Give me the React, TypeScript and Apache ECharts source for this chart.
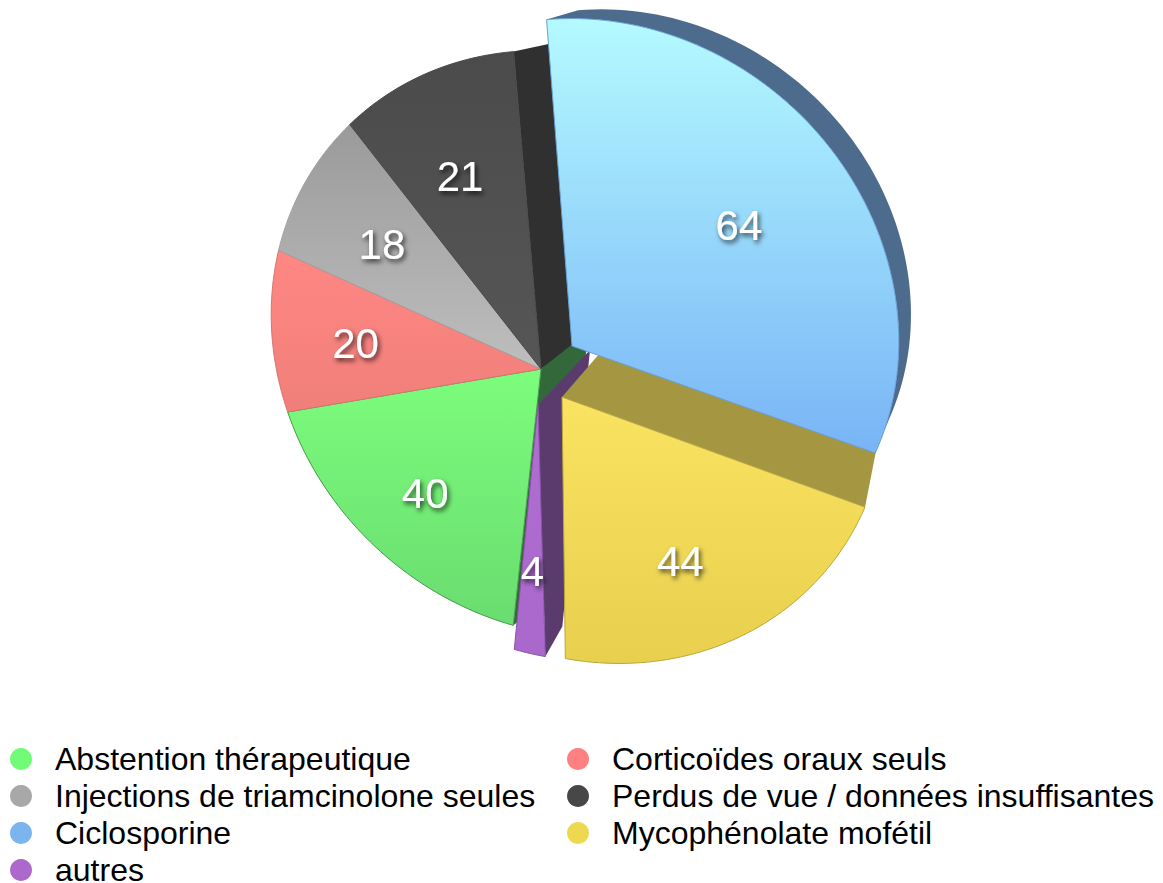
import React, { useEffect, useRef } from "react";
import * as echarts from "echarts";

const categories = [
  "Abstention thérapeutique",
  "Corticoïdes oraux seuls",
  "Injections de triamcinolone seules",
  "Perdus de vue / données insuffisantes",
  "Ciclosporine",
  "Mycophénolate mofétil",
  "autres",
];
const values = [40, 20, 18, 21, 64, 44, 4];
const legendColors = ["#72FB77", "#FF8080", "#A8A8A8", "#474747", "#7CB5EE", "#EDD850", "#AD68CC"];
const leftLegend = [categories[0], categories[2], categories[4], categories[6]];
const rightLegend = [categories[1], categories[3], categories[5]];

const total = values.reduce((a, b) => a + b, 0);
const START_DEG = 186.1;

const APEX = [541, 369];
const ELL = { cx: 568.5, cy: 344, a: 310, b: 280, rot: (41.3 * Math.PI) / 180 };
const rad = (d: number) => (d * Math.PI) / 180;

function rim(theta: number) {
  const s = Math.sin(rad(theta));
  const t = rad(theta + 6.5 * s * s);
  const ux = Math.sin(t), uy = -Math.cos(t);
  const c = Math.cos(ELL.rot), n = Math.sin(ELL.rot);
  const qx0 = APEX[0] - ELL.cx, qy0 = APEX[1] - ELL.cy;
  const qx = (qx0 * c + qy0 * n) / ELL.a, qy = (-qx0 * n + qy0 * c) / ELL.b;
  const vx = (ux * c + uy * n) / ELL.a, vy = (-ux * n + uy * c) / ELL.b;
  const A = vx * vx + vy * vy, B = 2 * (qx * vx + qy * vy), C = qx * qx + qy * qy - 1;
  const r = (-B + Math.sqrt(B * B - 4 * A * C)) / (2 * A);
  return [APEX[0] + ux * r, APEX[1] + uy * r];
}

type Look = {
  offA: number[]; offR: number[]; stops: string[]; stroke: string; z: number; f: number; shift?: number[]; endExtra?: number;
  wall?: "start" | "end" | "rim"; wallColor?: string; wallZ?: number;
  dA?: number[]; dR?: number[]; V?: number[]; k?: number;
};

const looks: Look[] = [
  { f: 0.7, offA: [0, 0], offR: [0, 0], stops: ["#7CFD7C", "#6ADC70"], stroke: "#48984F", z: 10, wall: "start", wallColor: "#33693A", wallZ: 2, dA: [50, -45], dR: [31, -27] },
  { f: 0.685, shift: [-1, 0], offA: [0, 0], offR: [0, 0], stops: ["#FF8784", "#F07F7A"], stroke: "#d87470", z: 10 },
  { f: 0.67, shift: [-1, 0], offA: [0, 0], offR: [0, 0], stops: ["#9A9A9A", "#BEBEBE"], stroke: "#a0a0a0", z: 10 },
  { f: 0.65, shift: [-4, -1], offA: [0, 0], offR: [0, 0], stops: ["#4A4B4A", "#555655"], stroke: "#484848", z: 10, wall: "end", wallColor: "#2F302F", wallZ: 2, dA: [34, -27], dR: [42, -9] },
  { f: 0.61, shift: [9, 0], endExtra: 0.8, offA: [31, -23], offR: [33, -32], stops: ["#B4FAFF", "#78B4F6"], stroke: "#6a9fd6", z: 12, wall: "rim", wallColor: "#4C6B8D", wallZ: 1, V: [1120, -150], k: 0.055 },
  { f: 0.67, shift: [1, 3], offA: [21, 28], offR: [21, 26], stops: ["#FBE362", "#E8D04E"], stroke: "#b9a63f", z: 11, wall: "start", wallColor: "#A59641", wallZ: 4, dA: [38, -44], dR: [11, -56] },
  { f: 0.66, shift: [0, 3], offA: [-3, 36], offR: [1, 24], stops: ["#B06DD2", "#AA68CC"], stroke: "#8a55a6", z: 11, wall: "start", wallColor: "#5B3B6E", wallZ: 3, dA: [52, -55], dR: [17, -30] },
];

function renderSlice(idx: number) {
  const look = looks[idx];
  return (_p: any, api: any) => {
    const cumBefore = api.value(0), val = api.value(1);
    const a0 = START_DEG + (cumBefore / total) * 360;
    const a1 = a0 + (val / total) * 360 + (look.endExtra || 0);
    const apex = [APEX[0] + look.offA[0], APEX[1] + look.offA[1]];
    const at = (th: number) => {
      const p = rim(th);
      return [p[0] + look.offR[0], p[1] + look.offR[1]];
    };
    const arc: number[][] = [];
    const steps = Math.max(3, Math.ceil((a1 - a0) / 1.5));
    for (let i = 0; i <= steps; i++) arc.push(at(a0 + ((a1 - a0) * i) / steps));
    const children: any[] = [];
    if (look.wall === "rim") {
      const back = arc.map((p) => [p[0] + look.k! * (look.V![0] - p[0]), p[1] + look.k! * (look.V![1] - p[1])]);
      children.push({
        type: "polygon", z2: look.wallZ, silent: true,
        shape: { points: arc.concat(back.slice().reverse()) },
        style: { fill: look.wallColor },
      });
    } else if (look.wall) {
      const p = look.wall === "start" ? arc[0] : arc[arc.length - 1];
      children.push({
        type: "polygon", z2: look.wallZ, silent: true,
        shape: { points: [apex, p, [p[0] + look.dR![0], p[1] + look.dR![1]], [apex[0] + look.dA![0], apex[1] + look.dA![1]]] },
        style: { fill: look.wallColor },
      });
    }
    children.push({
      type: "polygon", z2: look.z, silent: true,
      shape: { points: [apex].concat(arc) },
      style: {
        fill: new echarts.graphic.LinearGradient(0, 0, 0, 1, [
          { offset: 0, color: look.stops[0] },
          { offset: 1, color: look.stops[1] },
        ]),
        stroke: look.stroke, lineWidth: 1, lineJoin: "round",
      },
    });
    const mid = at((a0 + a1) / 2);
    const sh = look.shift || [0, 0];
    children.push({
      type: "text", z2: 30, silent: true,
      x: apex[0] + (mid[0] - apex[0]) * look.f + sh[0],
      y: apex[1] + (mid[1] - apex[1]) * look.f + sh[1],
      style: {
        text: String(val), fill: "#ffffff", fontFamily: "Liberation Sans", fontSize: 42,
        textAlign: "center", textVerticalAlign: "middle",
        textShadowColor: "rgba(0,0,0,0.7)", textShadowBlur: 5, textShadowOffsetX: 2, textShadowOffsetY: 3,
      },
    });
    return { type: "group", children };
  };
}

export default function App() {
  const ref = useRef<HTMLDivElement>(null);
  useEffect(() => {
    const chart = echarts.init(ref.current!, undefined, { renderer: "svg" });
    let cum = 0;
    const series = categories.map((name, i) => {
      const s = {
        type: "custom", name, coordinateSystem: "none", silent: true,
        itemStyle: { color: legendColors[i] },
        renderItem: renderSlice(i),
        data: [[cum, values[i]]],
      };
      cum += values[i];
      return s;
    });
    const legendBase = {
      orient: "vertical", icon: "circle", itemWidth: 22, itemHeight: 22, itemGap: 5, padding: 0, height: 150,
      selectedMode: false,
      textStyle: { fontFamily: "Liberation Sans", fontSize: 32, color: "#000", padding: [0, 0, 0, 18], lineHeight: 32 },
    };
    chart.setOption({
      animation: false,
      backgroundColor: "#fff",
      legend: [
        { ...legendBase, left: 10, top: 743, data: leftLegend },
        { ...legendBase, left: 567, top: 743, data: rightLegend },
      ],
      series,
    });
    return () => chart.dispose();
  }, []);
  return <div ref={ref} style={{ position: "fixed", left: 0, top: 0, width: 1163, height: 883 }} />;
}
